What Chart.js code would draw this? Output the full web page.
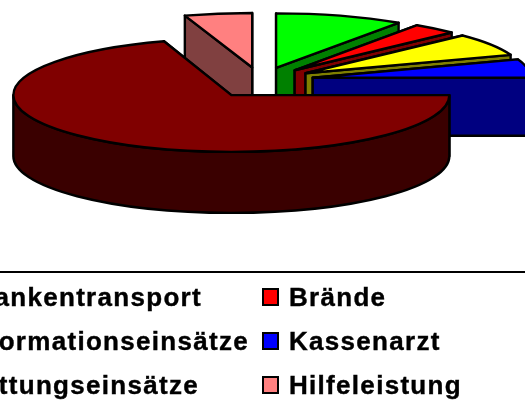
<!DOCTYPE html>
<html>
<head>
<meta charset="utf-8">
<style>html,body{margin:0;padding:0;background:#fff}canvas{display:block}</style>
<script src="https://cdn.jsdelivr.net/npm/chart.js@4"></script>
</head>
<body>
<canvas id="c" width="525" height="400"></canvas>
<script>
const categories = ['Krankentransport','Brände','Informationseinsätze','Kassenarzt','Rettungseinsätze','Hilfeleistung'];
const values = [9.5,3.3,6.7,5.5,70,5];
const topColors = ['#00FF00','#FF0000','#FFFF00','#0000FF','#800000','#FF8080'];
const sideColors = ['#008000','#800000','#808000','#000080','#3A0000','#804040'];

const EXPLODE = 53;
const FRONT = { dx: 0, cy: 84, tilt: 0.26, moveTilt: 0.26, depth: 61 };
const BACK = { dx: -2, cy: 80, tilt: 0.25, moveTilt: 0.24, depth: 58 };

const pie3d = {
  id: 'pie3d',
  beforeDatasetDraw(chart) {
    const ctx = chart.ctx;
    const arcs = chart.getDatasetMeta(0).data;
    const order = [5,0,1,2,3,4];
    ctx.save();
    ctx.lineWidth = 2.4;
    ctx.lineJoin = 'round';
    ctx.strokeStyle = '#000';
    const shape = (fill) => { ctx.fillStyle = fill; ctx.fill(); ctx.stroke(); };
    order.forEach(i => {
      const a = arcs[i], s = a.startAngle, e = a.endAngle, r = a.outerRadius, m = (s + e) / 2;
      const v = (e - s) > Math.PI ? FRONT : BACK;
      const ax = a.x + v.dx + EXPLODE * Math.cos(m), ay = v.cy + EXPLODE * v.moveTilt * Math.sin(m);
      const px = t => ax + r * Math.cos(t), py = t => ay + r * v.tilt * Math.sin(t);
      [s, e].forEach(t => {
        ctx.beginPath();
        ctx.moveTo(ax, ay); ctx.lineTo(px(t), py(t));
        ctx.lineTo(px(t), py(t) + v.depth); ctx.lineTo(ax, ay + v.depth);
        ctx.closePath();
        shape(sideColors[i]);
      });
      const rs = Math.max(s, 0), re = Math.min(e, Math.PI);
      if (re > rs) {
        ctx.beginPath();
        ctx.ellipse(ax, ay, r, r * v.tilt, 0, rs, re);
        ctx.ellipse(ax, ay + v.depth, r, r * v.tilt, 0, re, rs, true);
        ctx.closePath();
        shape(sideColors[i]);
      }
      ctx.beginPath();
      ctx.moveTo(ax, ay);
      ctx.ellipse(ax, ay, r, r * v.tilt, 0, s, e);
      ctx.closePath();
      shape(topColors[i]);
    });
    ctx.restore();
    return false;
  },
  afterDraw(chart) {
    const ctx = chart.ctx;
    ctx.save();
    ctx.strokeStyle = '#000';
    ctx.lineWidth = 2;
    ctx.beginPath(); ctx.moveTo(0, 272); ctx.lineTo(525, 272); ctx.stroke();
    ctx.font = 'bold 26px "Liberation Sans", Arial, sans-serif';
    ctx.letterSpacing = '1.3px';
    ctx.textBaseline = 'alphabetic';
    const rows = [306, 350, 394], cols = [-64, 262];
    categories.forEach((label, i) => {
      const col = i % 2, row = (i - col) / 2;
      const x = cols[col], y = rows[row];
      ctx.fillStyle = topColors[i];
      ctx.strokeStyle = '#000';
      ctx.lineWidth = 2;
      ctx.fillRect(x + 1, y - 17, 15, 16);
      ctx.strokeRect(x + 1, y - 17, 15, 16);
      ctx.fillStyle = '#000';
      ctx.lineWidth = 0.4;
      ctx.fillText(label, x + 27, y);
      ctx.strokeText(label, x + 27, y);
    });
    ctx.restore();
  }
};

new Chart(document.getElementById('c'), {
  type: 'pie',
  data: { labels: categories, datasets: [{ data: values, backgroundColor: topColors, borderWidth: 0 }] },
  options: {
    responsive: false,
    animation: false,
    radius: 218,
    layout: { padding: 0 },
    plugins: { legend: { display: false }, tooltip: { enabled: false } }
  },
  plugins: [pie3d]
});
</script>
</body>
</html>
